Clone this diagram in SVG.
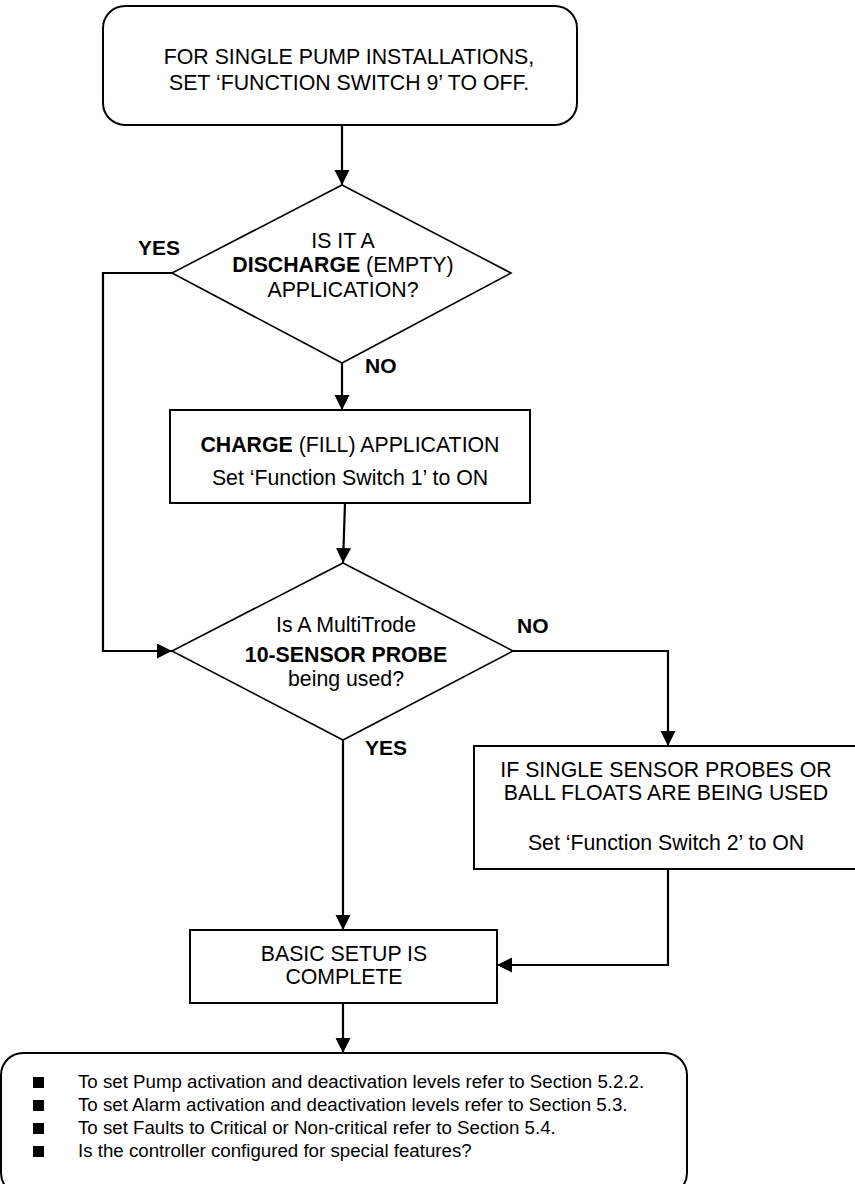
<svg xmlns="http://www.w3.org/2000/svg" width="855" height="1184" viewBox="0 0 855 1184">
<style>
  text { font-family: "Liberation Sans", Arial, sans-serif; fill: #000; }
  .t { font-size: 21.3px; text-anchor: middle; }
  .b { font-weight: bold; }
  .lbl { font-size: 21px; font-weight: bold; }
  .box { fill: #fff; stroke: #000; stroke-width: 2; }
  .dia { fill: #fff; stroke: #000; stroke-width: 1.6; }
  .con { fill: none; stroke: #000; stroke-width: 2.2; }
  .lst { font-size: 18.7px; }
</style>
<defs>
  <marker id="arr" markerUnits="userSpaceOnUse" markerWidth="16" markerHeight="16" refX="15" refY="7.5" orient="auto">
    <path d="M0,0 L15,7.5 L0,15 Z" fill="#000"/>
  </marker>
</defs>

<g id="connectors">
  <path class="con" d="M342,125 L342,185" marker-end="url(#arr)"/>
  <path class="con" d="M342,363 L342,410" marker-end="url(#arr)"/>
  <path class="con" d="M172,273 L103,273 L103,651 L172,651" marker-end="url(#arr)"/>
  <path class="con" d="M345,503 L343,563" marker-end="url(#arr)"/>
  <path class="con" d="M513,651 L668,651 L668,746" marker-end="url(#arr)"/>
  <path class="con" d="M343,740 L343,930" marker-end="url(#arr)"/>
  <path class="con" d="M668,869 L668,965 L497,965" marker-end="url(#arr)"/>
  <path class="con" d="M343,1003 L343,1053" marker-end="url(#arr)"/>
</g>

<g id="start">
  <rect class="box" x="103" y="6" width="474" height="119" rx="22" ry="22"/>
  <text class="t" x="349" y="64">FOR SINGLE PUMP INSTALLATIONS,</text>
  <text class="t" x="349" y="90">SET ‘FUNCTION SWITCH 9’ TO OFF.</text>
</g>

<g id="discharge">
  <polygon class="dia" points="342,185 511,273 342,363 172,273"/>
  <text class="t" x="343" y="248">IS IT A</text>
  <text class="t" x="343" y="272"><tspan class="b">DISCHARGE</tspan> (EMPTY)</text>
  <text class="t" x="343" y="297">APPLICATION?</text>
</g>

<g id="charge">
  <rect class="box" x="170" y="410" width="360" height="93"/>
  <text class="t" x="350" y="452"><tspan class="b">CHARGE</tspan> (FILL) APPLICATION</text>
  <text class="t" x="350" y="485">Set ‘Function Switch 1’ to ON</text>
</g>

<g id="probe">
  <polygon class="dia" points="343,563 513,651 343,740 172,651"/>
  <text class="t" x="346" y="632">Is A MultiTrode</text>
  <text class="t b" x="346" y="662">10-SENSOR PROBE</text>
  <text class="t" x="346" y="686">being used?</text>
</g>

<g id="single">
  <rect class="box" x="474" y="746" width="388" height="123"/>
  <text class="t" x="666" y="777">IF SINGLE SENSOR PROBES OR</text>
  <text class="t" x="666" y="800">BALL FLOATS ARE BEING USED</text>
  <text class="t" x="666" y="850">Set ‘Function Switch 2’ to ON</text>
</g>

<g id="complete">
  <rect class="box" x="190" y="930" width="307" height="73"/>
  <text class="t" x="344" y="961">BASIC SETUP IS</text>
  <text class="t" x="344" y="984">COMPLETE</text>
</g>

<g id="notes">
  <rect class="box" x="1" y="1053" width="686" height="142" rx="22" ry="22"/>
  <rect x="33" y="1077" width="11" height="11" fill="#000"/>
  <rect x="33" y="1100" width="11" height="11" fill="#000"/>
  <rect x="33" y="1123" width="11" height="11" fill="#000"/>
  <rect x="33" y="1146" width="11" height="11" fill="#000"/>
  <text class="lst" x="78" y="1088">To set Pump activation and deactivation levels refer to Section 5.2.2.</text>
  <text class="lst" x="78" y="1111">To set Alarm activation and deactivation levels refer to Section 5.3.</text>
  <text class="lst" x="78" y="1134">To set Faults to Critical or Non-critical refer to Section 5.4.</text>
  <text class="lst" x="78" y="1157">Is the controller configured for special features?</text>
</g>

<g id="labels">
  <text class="lbl" x="138" y="255">YES</text>
  <text class="lbl" x="365" y="373">NO</text>
  <text class="lbl" x="517" y="633">NO</text>
  <text class="lbl" x="365" y="755">YES</text>
</g>
</svg>
